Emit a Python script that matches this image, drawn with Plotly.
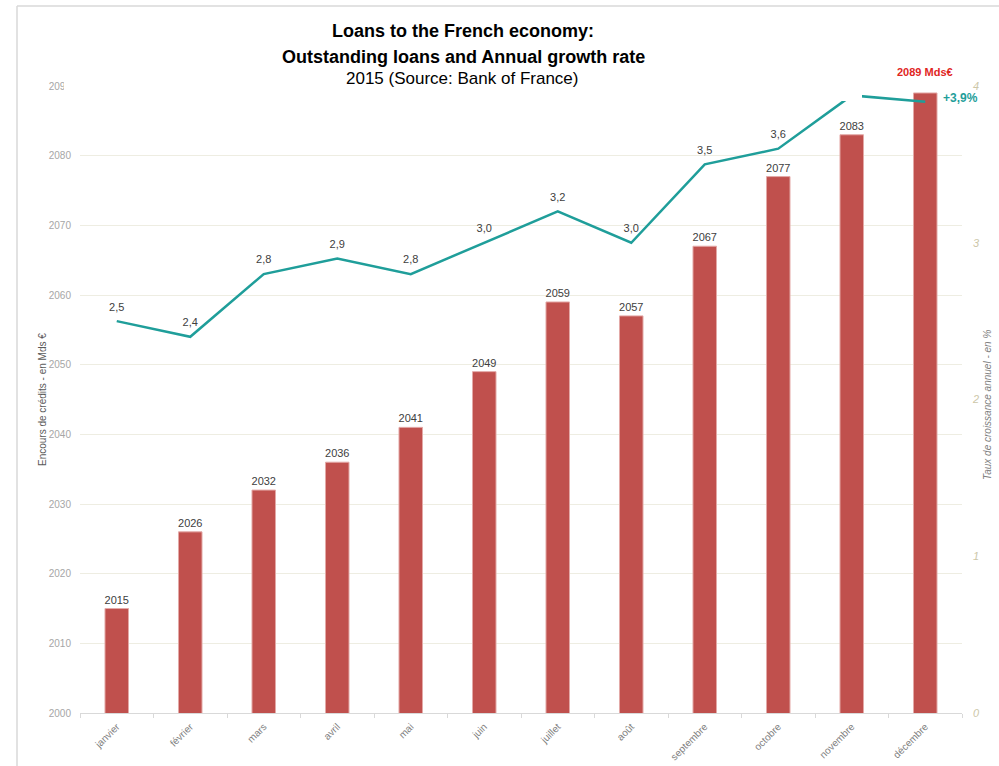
import plotly.graph_objects as go

# Monthly data, 2015
months = ["janvier", "février", "mars", "avril", "mai", "juin", "juillet",
          "août", "septembre", "octobre", "novembre", "décembre"]
outstanding = [2015, 2026, 2032, 2036, 2041, 2049, 2059, 2057, 2067, 2077, 2083, 2089]
growth = [2.5, 2.4, 2.8, 2.9, 2.8, 3.0, 3.2, 3.0, 3.5, 3.6, 3.94, 3.9]
# which points carry a value label
bar_labelled = [True] * 11 + [False]
line_labelled = [True] * 10 + [False, False]

left_ticks = [2000, 2010, 2020, 2030, 2040, 2050, 2060, 2070, 2080, 2090]
right_ticks = [0, 1, 2, 3, 4]

W, H = 999, 766
ML, MR, MT, MB = 80, 37, 86, 53
PW, PH = W - ML - MR, H - MT - MB


def px_x(x):
    return (x - ML) / PW


def px_y(y):
    return (H - MB - y) / PH


def fr(v):
    return f"{v:.1f}".replace(".", ",")


BAR_RED = "#c0504d"
TEAL = "#1f9e9a"
LABEL = "#404040"

bar_text = [str(v) if show else "" for v, show in zip(outstanding, bar_labelled)]
line_text = [fr(v) if show else "" for v, show in zip(growth, line_labelled)]

fig = go.Figure()
fig.add_trace(go.Bar(
    x=months, y=outstanding, text=bar_text, textposition="outside",
    textfont=dict(family="Arial", size=11, color=LABEL),
    marker=dict(color=BAR_RED, line=dict(color="#e3a9a7", width=1)),
    cliponaxis=False, constraintext="none", width=0.32,
    hoverinfo="x+y", showlegend=False,
))
fig.add_trace(go.Scatter(
    x=months, y=growth, yaxis="y2", mode="lines+markers+text",
    text=line_text, textposition="top center",
    textfont=dict(family="Arial", size=11, color=LABEL),
    marker=dict(size=11, color="rgba(0,0,0,0)"),
    line=dict(color=TEAL, width=2.5), cliponaxis=False, showlegend=False,
))


def paper_note(text, x, y, size, color, angle=0):
    return dict(text=text, x=px_x(x), y=px_y(y), xref="paper", yref="paper",
                xanchor="center", yanchor="middle", showarrow=False,
                textangle=angle, font=dict(family="Arial", size=size, color=color))


annotations = [
    paper_note("<b>Loans to the French economy:</b>", 463, 31, 18, "black"),
    paper_note("<b>Outstanding loans and Annual growth rate</b>", 463, 57, 18, "black"),
    paper_note("2015 (Source: Bank of France)", 462, 79, 17, "black"),
    paper_note("Encours de crédits - en Mds €", 42, 400, 10, "#595959", -90),
    paper_note("<i>Taux de croissance annuel - en %</i>", 987, 405, 10, "#7f7f7f", -90),
    dict(text=f"<b>{outstanding[-1]} Mds€</b>", x=months[-1], y=outstanding[-1],
         xref="x", yref="y", showarrow=False, yshift=21,
         font=dict(family="Arial", size=11, color="#e0261f")),
    dict(text=f"<b>+{fr(growth[-1])}%</b>", x=months[-1], y=growth[-1],
         xref="x", yref="y2", showarrow=False, xanchor="left", xshift=16, yshift=4,
         font=dict(family="Arial", size=12, color=TEAL)),
]

shapes = [
    # white backdrop behind the title block
    dict(type="rect", xref="paper", yref="paper", layer="above",
         x0=px_x(64), x1=px_x(862), y0=px_y(101), y1=px_y(7),
         fillcolor="white", line=dict(width=0)),
    # outer frame
    dict(type="line", xref="paper", yref="paper", layer="above",
         x0=px_x(17), x1=px_x(1010), y0=px_y(6), y1=px_y(6),
         line=dict(color="#d9d9d9", width=1.5)),
    dict(type="line", xref="paper", yref="paper", layer="above",
         x0=px_x(17), x1=px_x(17), y0=px_y(6), y1=px_y(780),
         line=dict(color="#d9d9d9", width=1.5)),
]

fig.update_layout(
    width=W, height=H,
    margin=dict(l=ML, r=MR, t=MT, b=MB, autoexpand=False),
    paper_bgcolor="white", plot_bgcolor="white",
    bargap=0.68, showlegend=False,
    font=dict(family="Arial"),
    xaxis=dict(
        type="category", range=[-0.5, len(months) - 0.5], tickangle=-45,
        showline=True, linecolor="#d9d9d9", linewidth=1, ticks="outside",
        tickson="boundaries", ticklen=4, tickcolor="#d9d9d9", showgrid=False,
        ticklabelstandoff=3,
        tickfont=dict(family="Arial", size=10, color="#7f7f7f"),
    ),
    yaxis=dict(
        range=[2000, 2090], tickvals=left_ticks, showgrid=True,
        gridcolor="#eeede2", gridwidth=1, zeroline=False, showline=False,
        ticklabelstandoff=8,
        tickfont=dict(family="Arial", size=10, color="#a6a6a6"),
    ),
    yaxis2=dict(
        range=[0, 4], tickvals=right_ticks, overlaying="y", side="right",
        showgrid=False, zeroline=False, showline=False, ticklabelstandoff=10,
        tickfont=dict(family="Arial", size=11, color="#cdc7a8", style="italic"),
    ),
    annotations=annotations,
    shapes=shapes,
)

fig.write_html("out.html")
